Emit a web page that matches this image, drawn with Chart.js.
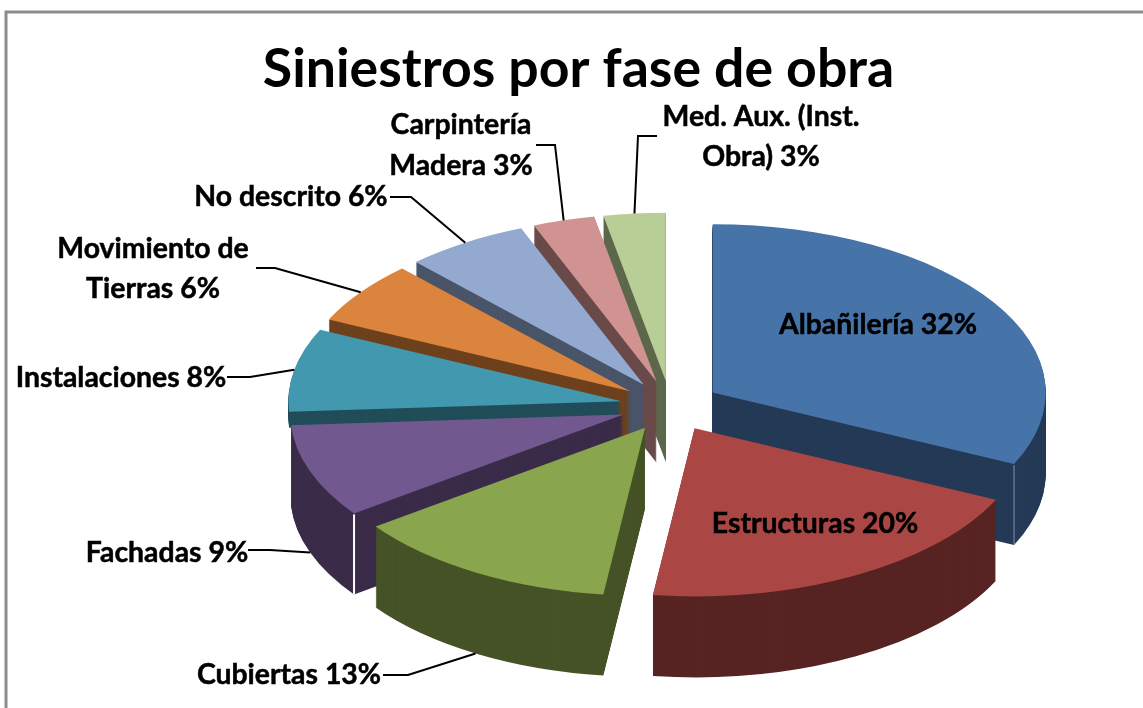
<!DOCTYPE html>
<html lang="es">
<head>
<meta charset="utf-8">
<title>Siniestros por fase de obra</title>
<script src="https://cdn.jsdelivr.net/npm/chart.js@4"></script>
<style>
html,body{margin:0;padding:0;background:#fff;overflow:hidden}
canvas{display:block}
</style>
</head>
<body>
<canvas id="c" width="1143" height="708"></canvas>
<script>
const titleText = 'Siniestros por fase de obra';
const categories = ['Albañilería','Estructuras','Cubiertas','Fachadas','Instalaciones','Movimiento de\nTierras','No descrito','Carpintería\nMadera','Med. Aux. (Inst.\nObra)'];
const values = [32,20,13,9,8,6,6,3,3];
const topColors = ['#4674A9','#AA4644','#89A54E','#71588F','#4198AF','#DB843D','#93A9CF','#D19392','#B9CD96'];
const wallColors = ['#243A56','#572423','#465327','#3A2C49','#214D59','#6E411D','#4A5569','#694A49','#5D684B'];

// View of the tilted, exploded pie
const FONT = 'Lato, Carlito, Calibri, sans-serif';
const TILT = 0.505, DEPTH = 81, EXPLODE = 50, RADIUS = 333, PIE_SHIFT_X = 92;
const depthOf = i => i === 4 ? 16 : DEPTH; // the reference hides the outer wall of this slice
// Where each label sits, and the elbow of its leader line (none for labels placed on the slice)
const labelLayout = [
  {x:878,y:325},
  {x:815,y:524},
  {x:289,y:675,elbow:[383,675,408,675]},
  {x:167,y:553,elbow:[248,550,270,550]},
  {x:121,y:378,elbow:[227,377,250,377]},
  {x:153,y:249,gap:40,elbow:[256,268,275,268]},
  {x:291,y:197,elbow:[390,197,411,197]},
  {x:461,y:125,gap:41,elbow:[536,145,555,145]},
  {x:761,y:117,gap:40,elbow:[657,136,638,136]}
];

function midOf(arc){ return (arc.startAngle + arc.endAngle) / 2; }

const pie3d = {
  id: 'pie3d',
  beforeDraw(chart){
    const ctx = chart.ctx;
    ctx.save();
    ctx.fillStyle = '#fff';
    ctx.fillRect(0,0,chart.width,chart.height);
    ctx.strokeStyle = '#8C8C8C';
    ctx.lineWidth = 3;
    ctx.strokeRect(6,12,chart.width+20,chart.height+20);
    ctx.restore();
  },
  beforeDatasetsDraw(chart){
    const ctx = chart.ctx;
    const arcs = chart.getDatasetMeta(0).data;
    const order = arcs.map((a,i)=>i).sort((p,q)=>Math.sin(midOf(arcs[p]))-Math.sin(midOf(arcs[q])));
    const drawAt = (arc,color,drop) => {
      const m = midOf(arc);
      const el = Object.create(arc);
      el.options = Object.assign({}, arc.options, {backgroundColor:color,borderWidth:0});
      ctx.save();
      ctx.translate(arc.x + PIE_SHIFT_X, arc.y + drop);
      ctx.scale(1, TILT);
      ctx.translate(-arc.x, -arc.y);
      ctx.translate(Math.cos(m)*EXPLODE, Math.sin(m)*EXPLODE);
      el.draw(ctx);
      ctx.restore();
    };
    order.forEach(i => {
      const arc = arcs[i];
      for (let k = depthOf(i); k > 0; k--) drawAt(arc, wallColors[i], k);
      drawAt(arc, topColors[i], 0);
    });
    // Light vertical edges where a radial wall meets the outer wall
    const corner = (arc, ang, color, width) => {
      const m = midOf(arc);
      const x = arc.x + PIE_SHIFT_X + Math.cos(m)*EXPLODE + Math.cos(ang)*arc.outerRadius;
      const y = arc.y + (Math.sin(m)*EXPLODE + Math.sin(ang)*arc.outerRadius)*TILT;
      ctx.save();
      ctx.strokeStyle = color; ctx.lineWidth = width;
      ctx.beginPath(); ctx.moveTo(x,y+1); ctx.lineTo(x,y+DEPTH); ctx.stroke();
      ctx.restore();
    };
    corner(arcs[0], arcs[0].endAngle, '#8594A8', 1);
    corner(arcs[3], arcs[3].startAngle, '#FFFFFF', 2);
    return false;
  },
  afterDraw(chart){
    const ctx = chart.ctx;
    const arcs = chart.getDatasetMeta(0).data;
    ctx.save();
    ctx.strokeStyle = '#000';
    ctx.lineWidth = 2;
    labelLayout.forEach((l,i) => {
      if (!l.elbow) return;
      const arc = arcs[i], m = midOf(arc), r = EXPLODE + arc.outerRadius;
      const ex = arc.x + PIE_SHIFT_X + Math.cos(m)*r;
      const front = Math.sin(m) > 0;
      const ey = arc.y + Math.sin(m)*r*TILT + (front ? DEPTH : 0);
      ctx.beginPath();
      ctx.moveTo(l.elbow[0],l.elbow[1]);
      ctx.lineTo(l.elbow[2],l.elbow[3]);
      ctx.lineTo(ex,ey);
      ctx.stroke();
    });
    ctx.fillStyle = '#000';
    ctx.lineWidth = 0.5;
    ctx.font = 'bold 28.4px ' + FONT;
    ctx.textAlign = 'center';
    ctx.textBaseline = 'middle';
    labelLayout.forEach((l,i) => {
      const lines = (categories[i] + ' ' + values[i] + '%').split('\n');
      lines.forEach((t,j) => {
        ctx.fillText(t, l.x, l.y + j*(l.gap||0));
        ctx.strokeText(t, l.x, l.y + j*(l.gap||0));
      });
    });
    ctx.restore();
  }
};

new Chart(document.getElementById('c'), {
  type: 'pie',
  data: {
    labels: categories.map(c => c.replace('\n',' ')),
    datasets: [{ data: values, backgroundColor: topColors, borderWidth: 0, radius: RADIUS }]
  },
  plugins: [pie3d],
  options: {
    responsive: false,
    animation: false,
    layout: { padding: { left: 14 } },
    plugins: {
      legend: { display: false },
      tooltip: { enabled: false },
      title: {
        display: true,
        text: titleText,
        color: '#000',
        font: { family: FONT, size: 53.6, weight: 'bold', lineHeight: 1.12 },
        padding: { top: 40, bottom: 4 }
      }
    }
  }
});
</script>
</body>
</html>
